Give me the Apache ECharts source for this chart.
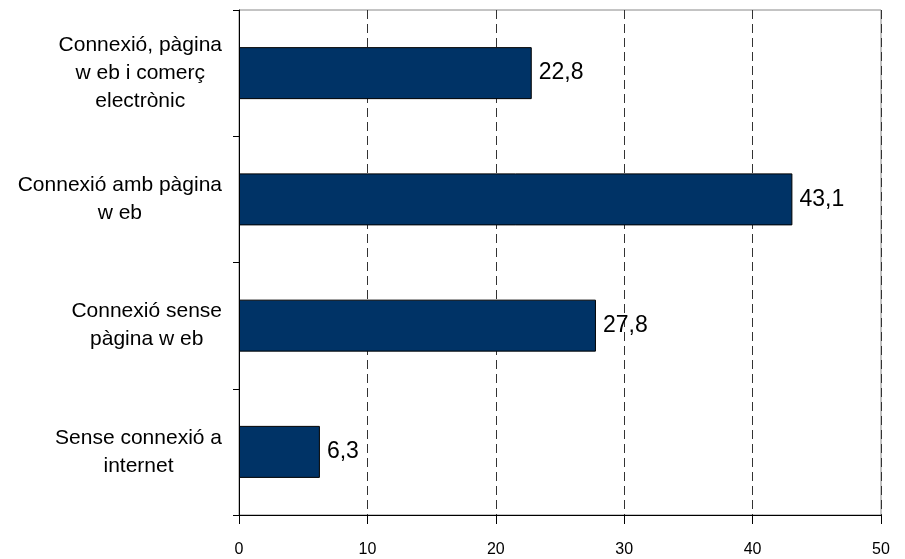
<!DOCTYPE html>
<html>
<head>
<meta charset="utf-8">
<script src="https://cdn.jsdelivr.net/npm/echarts@6/dist/echarts.min.js"></script>
<style>html,body{margin:0;padding:0;background:#fff}#c{width:905px;height:559px}</style>
</head>
<body>
<div id="c"></div>
<script>
var categories = ["Connexió, pàgina\nw eb i comerç\nelectrònic", "Connexió amb pàgina\nw eb", "Connexió sense\npàgina w eb", "Sense connexió a\ninternet"];
var values = [22.8, 43.1, 27.8, 6.3];
var xTicks = [0, 10, 20, 30, 40, 50];

var chart = echarts.init(document.getElementById('c'), null, {renderer: 'canvas'});
var font = '"Liberation Sans", Arial, sans-serif';
chart.setOption({
  animation: false,
  backgroundColor: '#fff',
  textStyle: {fontFamily: font},
  grid: {left: 239, right: 24, top: 10, bottom: 44, show: true, borderColor: '#888', borderWidth: 1, containLabel: false},
  xAxis: {
    type: 'value', min: xTicks[0], max: xTicks[xTicks.length - 1], interval: xTicks[1] - xTicks[0],
    axisLine: {show: true, lineStyle: {color: '#000', width: 1}},
    axisTick: {show: true, length: 9, lineStyle: {color: '#000'}},
    axisLabel: {fontSize: 16, color: '#000', margin: 27, fontFamily: font},
    splitLine: {show: true, lineStyle: {color: '#333', type: [9, 5], width: 1}}
  },
  yAxis: {
    type: 'category', inverse: true, data: categories,
    axisLine: {show: true, lineStyle: {color: '#000', width: 1}},
    axisTick: {show: true, length: 6, alignWithLabel: false, lineStyle: {color: '#000'}},
    axisLabel: {
      align: 'right', margin: 17, color: '#000', fontFamily: font,
      formatter: function (v) { return v.split('\n').map(function (l) { return '{c|' + l + '}'; }).join('\n'); },
      rich: {c: {align: 'center', fontSize: 21, lineHeight: 28, color: '#000', fontFamily: font}}
    },
    splitLine: {show: false}
  },
  series: [{
    type: 'bar', data: values, barWidth: 52,
    itemStyle: {color: '#003366', borderColor: '#000', borderWidth: 1},
    label: {show: true, position: 'right', distance: 7, fontSize: 23, color: '#000', fontFamily: font,
      formatter: function (p) { return p.value.toFixed(1).replace('.', ','); }}
  }]
});
</script>
</body>
</html>
